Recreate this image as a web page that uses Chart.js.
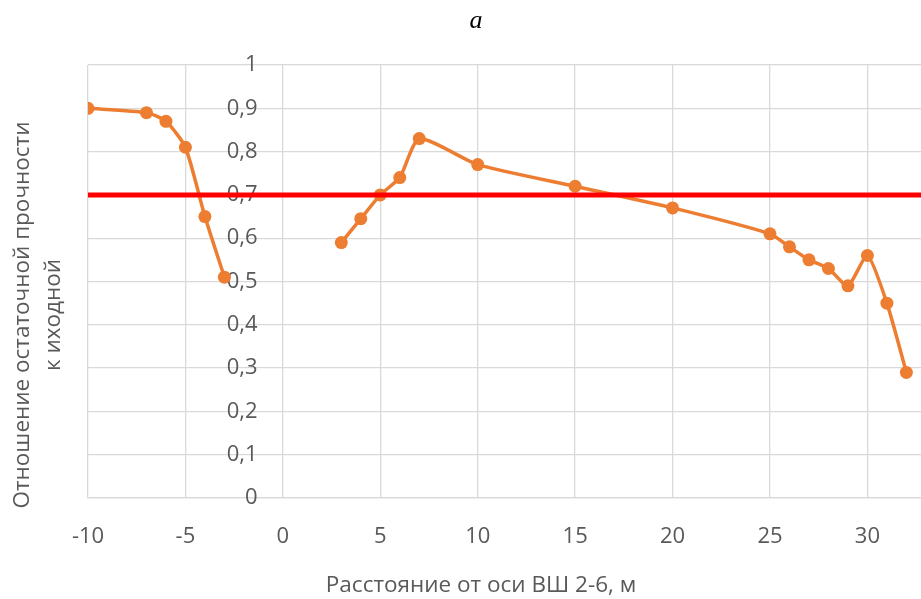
<!DOCTYPE html>
<html>
<head>
<meta charset="utf-8">
<script src="https://cdn.jsdelivr.net/npm/chart.js@4.4.1/dist/chart.umd.min.js"></script>
<style>
  html, body { margin: 0; padding: 0; background: #fff; }
</style>
</head>
<body>
<canvas id="chart" width="921" height="599"></canvas>
<script>
// Data
const distLeft = [-10, -7, -6, -5, -4, -3];
const ratioLeft = [0.90, 0.89, 0.87, 0.81, 0.65, 0.51];
const distRight = [3, 4, 5, 6, 7, 10, 15, 20, 25, 26, 27, 28, 29, 30, 31, 32];
const ratioRight = [0.59, 0.645, 0.70, 0.74, 0.83, 0.77, 0.72, 0.67, 0.61, 0.58, 0.55, 0.53, 0.49, 0.56, 0.45, 0.29];
const limitX = [-10, 34];
const limitY = [0.7, 0.7];
const xTicks = [-10, -5, 0, 5, 10, 15, 20, 25, 30];

const toPoints = (xs, ys) => xs.map((x, i) => ({ x: x, y: ys[i] }));

const tickFont = { family: "'Open Sans', sans-serif", size: 22 };
const gridColor = "#d9d9d9";
const textColor = "#595959";

// titles are placed by hand, Excel puts them off-centre
const titlesPlugin = {
  id: "titles",
  afterDraw(chart) {
    const ctx = chart.ctx;
    ctx.save();
    ctx.fillStyle = "#000";
    ctx.font = "italic 26px 'Liberation Serif', serif";
    ctx.textAlign = "center";
    ctx.textBaseline = "alphabetic";
    ctx.fillText("a", 476, 28);

    ctx.fillStyle = textColor;
    ctx.font = "22.5px 'Open Sans', sans-serif";
    ctx.textBaseline = "middle";
    ctx.fillText("Расстояние от оси ВШ 2-6, м", 481, 586);

    ctx.translate(23, 315);
    ctx.rotate(-Math.PI / 2);
    ctx.fillText("Отношение остаточной прочности", 0, 0);
    ctx.fillText("к иходной", 0, 31);
    ctx.restore();
  },
};

// no extra room for overflowing labels
const noPad = (scale) => {
  scale.paddingLeft = 0;
  scale.paddingRight = 0;
  scale.paddingTop = 0;
  scale.paddingBottom = 0;
};

const chart = new Chart(document.getElementById("chart").getContext("2d"), {
  type: "line",
  data: {
    datasets: [
      {
        label: "limit",
        data: toPoints(limitX, limitY),
        borderColor: "#ff0000",
        borderWidth: 5,
        pointRadius: 0,
        tension: 0,
      },
      {
        label: "left",
        data: toPoints(distLeft, ratioLeft),
        borderColor: "#ed7d31",
        backgroundColor: "#ed7d31",
        borderWidth: 3.5,
        pointRadius: 6.5,
        pointBorderWidth: 0,
        tension: 0.2,
      },
      {
        label: "right",
        data: toPoints(distRight, ratioRight),
        borderColor: "#ed7d31",
        backgroundColor: "#ed7d31",
        borderWidth: 3.5,
        pointRadius: 6.5,
        pointBorderWidth: 0,
        tension: 0.2,
      },
    ],
  },
  options: {
    responsive: false,
    animation: false,
    layout: { autoPadding: false, padding: { left: 88, right: 0, top: 65, bottom: 0 } },
    plugins: {
      legend: { display: false },
      tooltip: { enabled: false },
      title: { display: false },
    },
    scales: {
      x: {
        type: "linear",
        min: -10,
        max: 32.75,
        afterBuildTicks: (scale) => {
          scale.ticks = xTicks.map((v) => ({ value: v }));
        },
        afterFit: (scale) => {
          noPad(scale);
          scale.height = 101; // room for the hand-drawn axis title
        },
        grid: { color: gridColor, lineWidth: 1.3, drawTicks: false },
        border: { color: gridColor, width: 1.3 },
        ticks: { padding: 26, color: textColor, font: tickFont, maxRotation: 0 },
      },
      y: {
        type: "linear",
        min: 0,
        max: 1,
        position: { x: -1.3 },
        afterFit: noPad,
        grid: { color: gridColor, lineWidth: 1.3, drawTicks: false },
        border: { display: false },
        ticks: {
          stepSize: 0.1,
          color: textColor,
          font: tickFont,
          callback: (v) => String(Number(v.toFixed(1))).replace(".", ","),
        },
      },
    },
  },
  plugins: [titlesPlugin],
});
</script>
</body>
</html>
